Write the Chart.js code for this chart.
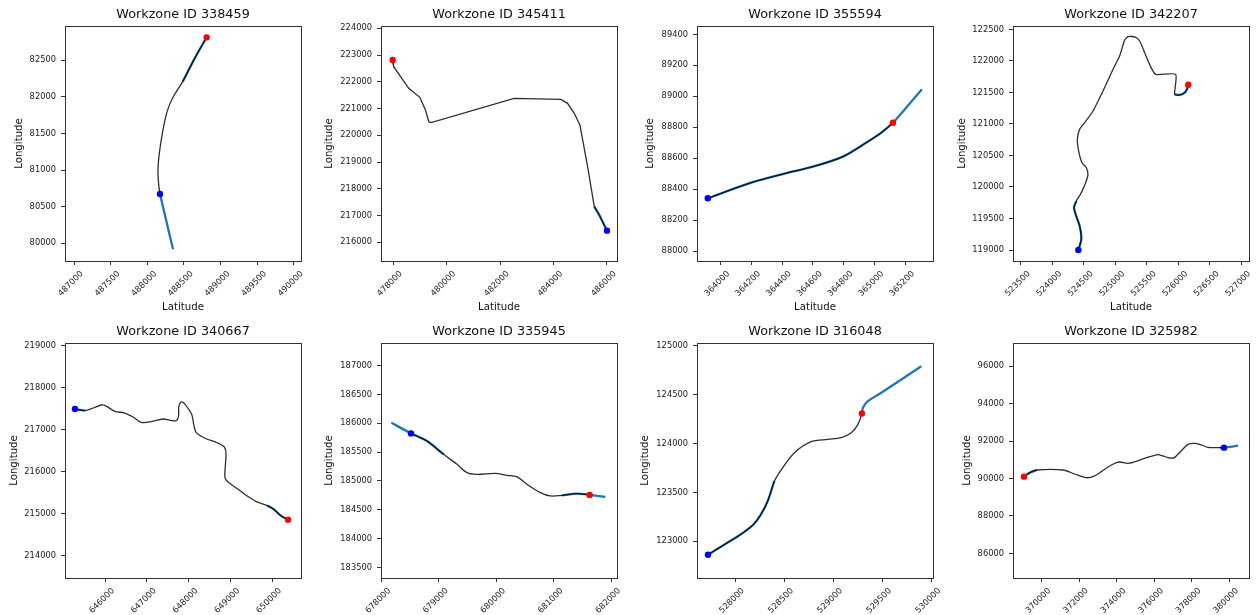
<!DOCTYPE html>
<html><head><meta charset="utf-8">
<script src="https://cdn.jsdelivr.net/npm/chart.js@4.4.0/dist/chart.umd.min.js"></script>
<style>
html,body{margin:0;padding:0;background:#fff;overflow:hidden;width:1256px;height:615px;position:relative}
.cell{position:absolute;width:330px;height:315px}
canvas{display:block}
</style></head><body>
<script>
// ---------- DATA ----------
const workzoneIds = ['338459','345411','355594','342207','340667','335945','316048','325982'];

// Workzone 338459
const wz338459Lat = [488809,488650,488482,488354,488270,488205,488160,488145,488155,488173];
const wz338459Lon = [82809,82530,82205,82000,81800,81500,81200,81000,80800,80673];
const wz338459ZoneLat = [488173,488260,488350,null,488482,488650,488809];
const wz338459ZoneLon = [80673,80300,79918,null,82205,82530,82809];
const wz338459Start = [488173,80673];
const wz338459End = [488809,82809];
const wz338459LatTicks = [487000,487500,488000,488500,489000,489500,490000];
const wz338459LonTicks = [80000,80500,81000,81500,82000,82500];
const wz338459LatRange = [486877,490096];
const wz338459LonRange = [79759,82964];

// Workzone 345411
const wz345411Lat = [477988,478025,478300,478588,479000,479212,479337,479425,482525,484275,484525,484775,484987,485275,485525,485712,486000];
const wz345411Lon = [222816,222567,222168,221757,221421,220947,220511,220473,221383,221346,221196,220822,220386,218829,217333,217022,216436];
const wz345411ZoneLat = [477965,477988,null,485525,485712,486000];
const wz345411ZoneLon = [222900,222816,null,217333,217022,216436];
const wz345411Start = [486000,216436];
const wz345411End = [477988,222816];
const wz345411LatTicks = [478000,480000,482000,484000,486000];
const wz345411LonTicks = [216000,217000,218000,219000,220000,221000,222000,223000,224000];
const wz345411LatRange = [477550,486374];
const wz345411LonRange = [215302,224087];

// Workzone 355594
const wz355594Lat = [363918,364200,364416,364600,364795,364957,365044,365120];
const wz355594Lon = [88341,88442,88500,88545,88610,88707,88765,88829];
const wz355594ZoneLat = [363918,364200,364416,364600,364795,364957,365044,365120,365200,365308];
const wz355594ZoneLon = [88341,88442,88500,88545,88610,88707,88765,88829,88920,89045];
const wz355594Start = [363918,88341];
const wz355594End = [365120,88829];
const wz355594LatTicks = [364000,364200,364400,364600,364800,365000,365200];
const wz355594LonTicks = [88000,88200,88400,88600,88800,89000,89200,89400];
const wz355594LatRange = [363848,365380];
const wz355594LonRange = [87936,89454];

// Workzone 342207
const wz342207Lat = [524411,524458,524432,524368,524342,524379,524458,524527,524564,524538,524469,524421,524395,524432,524511,524644,524803,524962,525067,525147,525200,525306,525385,525465,525555,525640,525957,525941,526021,526100,526137,526158];
const wz342207Lon = [119000,119169,119381,119566,119672,119777,119910,120068,120200,120306,120385,120544,120755,120914,121020,121205,121522,121866,122077,122331,122384,122379,122315,122130,121919,121786,121786,121469,121459,121496,121549,121623];
const wz342207ZoneLat = [524411,524458,524432,524368,524342,524379,null,525941,526021,526100,526137,526158];
const wz342207ZoneLon = [119000,119169,119381,119566,119672,119777,null,121469,121459,121496,121549,121623];
const wz342207Start = [524411,119000];
const wz342207End = [526158,121623];
const wz342207LatTicks = [523500,524000,524500,525000,525500,526000,526500,527000];
const wz342207LonTicks = [119000,119500,120000,120500,121000,121500,122000,122500];
const wz342207LatRange = [523373,527122];
const wz342207LonRange = [118826,122553];

// Workzone 340667
const wz340667Lat = [645275,645513,645712,645911,646031,646230,646468,646667,646866,647105,647383,647566,647702,647757,647765,647821,647885,647980,648076,648123,648179,648378,648696,648855,648895,648879,648871,648951,649174,649413,649611,649890,650049,650208,650383];
const wz340667Lon = [217492,217453,217516,217588,217556,217437,217397,217302,217175,217191,217254,217223,217215,217318,217556,217659,217635,217516,217358,217120,216937,216802,216683,216588,216445,216127,215850,215746,215588,215413,215294,215191,215096,214953,214857];
const wz340667ZoneLat = [645275,645513,null,649890,650049,650208,650383];
const wz340667ZoneLon = [217492,217453,null,215191,215096,214953,214857];
const wz340667Start = [645275,217492];
const wz340667End = [650383,214857];
const wz340667LatTicks = [646000,647000,648000,649000,650000];
const wz340667LonTicks = [214000,215000,216000,217000,218000,219000];
const wz340667LatRange = [645036,650693];
const wz340667LonRange = [213468,219064];

// Workzone 335945
const wz335945Lat = [678516,678794,679084,679316,679490,679664,679983,680186,680360,680533,680765,680939,681142,681403,681623];
const wz335945Lon = [185824,185691,185460,185287,185143,185114,185131,185097,185068,184941,184797,184739,184750,184780,184757];
const wz335945ZoneLat = [678174,678516,678794,679084,null,681142,681403,681623,681896];
const wz335945ZoneLon = [186008,185824,185691,185460,null,184750,184780,184757,184722];
const wz335945Start = [678516,185824];
const wz335945End = [681623,184757];
const wz335945LatTicks = [678000,679000,680000,681000,682000];
const wz335945LonTicks = [183500,184000,184500,185000,185500,186000,186500,187000];
const wz335945LatRange = [677994,682099];
const wz335945LonRange = [183315,187392];

// Workzone 316048
const wz316048Lat = [527724,527925,528061,528190,528265,528333,528401,528486,528605,528776,528946,529082,529184,529252,529293];
const wz316048Lon = [122863,122988,123073,123175,123277,123413,123617,123753,123906,124018,124042,124059,124110,124195,124307];
const wz316048ZoneLat = [527724,527925,528061,528190,528265,528333,528401,null,529293,529303,529354,529490,529898];
const wz316048ZoneLon = [122863,122988,123073,123175,123277,123413,123617,null,124307,124365,124433,124518,124789];
const wz316048Start = [527724,122863];
const wz316048End = [529293,124307];
const wz316048LatTicks = [528000,528500,529000,529500,530000];
const wz316048LonTicks = [123000,123500,124000,124500,125000];
const wz316048LatRange = [527612,530017];
const wz316048LonRange = [122625,125027];

// Workzone 325982
const wz325982Lat = [369068,369370,369761,371146,371768,372389,372744,373188,373721,374130,374609,375231,375764,376208,376474,376829,377096,377451,377806,378161,378516,378871,379315,379723];
const wz325982Lon = [90101,90314,90457,90457,90243,90047,90101,90368,90724,90884,90813,90991,91169,91276,91205,91098,91134,91490,91828,91882,91793,91668,91650,91650];
const wz325982ZoneLat = [369068,369370,369761,null,379500,379723,380470];
const wz325982ZoneLon = [90101,90314,90457,null,91650,91650,91757];
const wz325982Start = [379723,91650];
const wz325982End = [369068,90101];
const wz325982LatTicks = [370000,372000,374000,376000,378000,380000];
const wz325982LonTicks = [86000,88000,90000,92000,94000,96000];
const wz325982LatRange = [368482,381054];
const wz325982LonRange = [84686,97243];

// ---------- LAYOUT / STYLE ----------
const panelData = {
  '338459': [wz338459Lat,wz338459Lon,wz338459ZoneLat,wz338459ZoneLon,wz338459Start,wz338459End,wz338459LatTicks,wz338459LonTicks,wz338459LatRange,wz338459LonRange],
  '345411': [wz345411Lat,wz345411Lon,wz345411ZoneLat,wz345411ZoneLon,wz345411Start,wz345411End,wz345411LatTicks,wz345411LonTicks,wz345411LatRange,wz345411LonRange],
  '355594': [wz355594Lat,wz355594Lon,wz355594ZoneLat,wz355594ZoneLon,wz355594Start,wz355594End,wz355594LatTicks,wz355594LonTicks,wz355594LatRange,wz355594LonRange],
  '342207': [wz342207Lat,wz342207Lon,wz342207ZoneLat,wz342207ZoneLon,wz342207Start,wz342207End,wz342207LatTicks,wz342207LonTicks,wz342207LatRange,wz342207LonRange],
  '340667': [wz340667Lat,wz340667Lon,wz340667ZoneLat,wz340667ZoneLon,wz340667Start,wz340667End,wz340667LatTicks,wz340667LonTicks,wz340667LatRange,wz340667LonRange],
  '335945': [wz335945Lat,wz335945Lon,wz335945ZoneLat,wz335945ZoneLon,wz335945Start,wz335945End,wz335945LatTicks,wz335945LonTicks,wz335945LatRange,wz335945LonRange],
  '316048': [wz316048Lat,wz316048Lon,wz316048ZoneLat,wz316048ZoneLon,wz316048Start,wz316048End,wz316048LatTicks,wz316048LonTicks,wz316048LatRange,wz316048LonRange],
  '325982': [wz325982Lat,wz325982Lon,wz325982ZoneLat,wz325982ZoneLon,wz325982Start,wz325982End,wz325982LatTicks,wz325982LonTicks,wz325982LatRange,wz325982LonRange]
};
const cellLeft = [0,314,628,942];
const cellTop = [0,317];
const areaLeft = [65,67,69,71];
const yTitleCenter = [19,15.7,22.7,20,14,15,17.7,25];
const lineTension = [0.3,0,0.3,0.2,0.3,0.3,0.3,0.3];

Chart.defaults.font.family = "'DejaVu Sans', sans-serif";
Chart.defaults.color = '#222';

const boxPlugin = {
  id: 'box',
  afterDraw(chart) {
    const {ctx, chartArea: a} = chart;
    ctx.save();
    ctx.strokeStyle = '#333';
    ctx.lineWidth = 1;
    ctx.strokeRect(Math.round(a.left) + 0.5, Math.round(a.top) + 0.5, Math.round(a.right - a.left), Math.round(a.bottom - a.top));
    ctx.restore();
  }
};

const pts = (xs, ys) => xs.map((x, i) => ({x: x, y: ys[i]}));
const CW = 330, CH = 315, AW = 236;

workzoneIds.forEach((id, i) => {
  const [lat, lon, zLat, zLon, st, en, xt, yt, xr, yr] = panelData[id];
  const col = i % 4, row = Math.floor(i / 4);
  const cell = document.createElement('div');
  cell.className = 'cell';
  cell.style.left = cellLeft[col] + 'px';
  cell.style.top = cellTop[row] + 'px';
  const cv = document.createElement('canvas');
  cv.width = CW; cv.height = CH;
  cv.style.width = CW + 'px'; cv.style.height = CH + 'px';
  cell.appendChild(cv);
  document.body.appendChild(cell);
  const L = areaLeft[col];
  new Chart(cv, {
    type: 'line',
    data: {
      datasets: [
        {data: [{x: st[0], y: st[1]}], showLine: false, pointRadius: 3.2, pointBackgroundColor: '#0000ff', pointBorderColor: '#0000ff', pointBorderWidth: 0},
        {data: [{x: en[0], y: en[1]}], showLine: false, pointRadius: 3.2, pointBackgroundColor: '#ff0000', pointBorderColor: '#ff0000', pointBorderWidth: 0},
        {data: pts(lat, lon), borderColor: 'rgba(0,0,0,0.82)', borderWidth: 1.3, pointRadius: 0, tension: lineTension[i], fill: false},
        {data: pts(zLat, zLon), borderColor: '#1f77b4', borderWidth: 2.3, pointRadius: 0, tension: lineTension[i], spanGaps: false, fill: false}
      ]
    },
    options: {
      responsive: false,
      animation: false,
      events: [],
      layout: {padding: {left: 0, top: 0, right: CW - (L + AW), bottom: 0}},
      plugins: {
        legend: {display: false},
        tooltip: {enabled: false},
        title: {
          display: true, text: 'Workzone ID ' + id, fullSize: false,
          font: {size: 12.8, weight: 'normal'}, color: '#111',
          padding: {top: 7.3, bottom: 3.34}
        }
      },
      scales: {
        x: {
          type: 'linear', position: 'bottom', min: xr[0], max: xr[1],
          afterBuildTicks: s => { s.ticks = xt.map(v => ({value: v})); },
          afterFit: s => { s.height = 54; s.paddingLeft = 0; s.paddingRight = 0; s.paddingTop = 0; s.paddingBottom = 0; },
          ticks: {callback: v => String(v), minRotation: 45, maxRotation: 45, autoSkip: false, font: {size: 8.3}, color: '#222', padding: 4, labelOffset: 8},
          grid: {drawOnChartArea: false, drawTicks: true, tickLength: 4, color: '#333', lineWidth: 1},
          border: {display: false},
          title: {display: true, text: 'Latitude', font: {size: 10.2}, color: '#111', padding: {top: 0, bottom: 1.2}}
        },
        y: {
          type: 'linear', position: 'left', min: yr[0], max: yr[1],
          afterBuildTicks: s => { s.ticks = yt.map(v => ({value: v})); },
          afterFit: s => { s.width = L; s.paddingLeft = 0; s.paddingRight = 0; s.paddingTop = 0; s.paddingBottom = 0; },
          ticks: {callback: v => String(v), autoSkip: false, font: {size: 8.3}, color: '#222', padding: 5},
          grid: {drawOnChartArea: false, drawTicks: true, tickLength: 4, color: '#333', lineWidth: 1},
          border: {display: false},
          title: {display: true, text: 'Longitude', font: {size: 10.2}, color: '#111', padding: {top: yTitleCenter[i] - 6.12, bottom: 0}}
        }
      }
    },
    plugins: [boxPlugin]
  });
});
</script>
</body></html>
